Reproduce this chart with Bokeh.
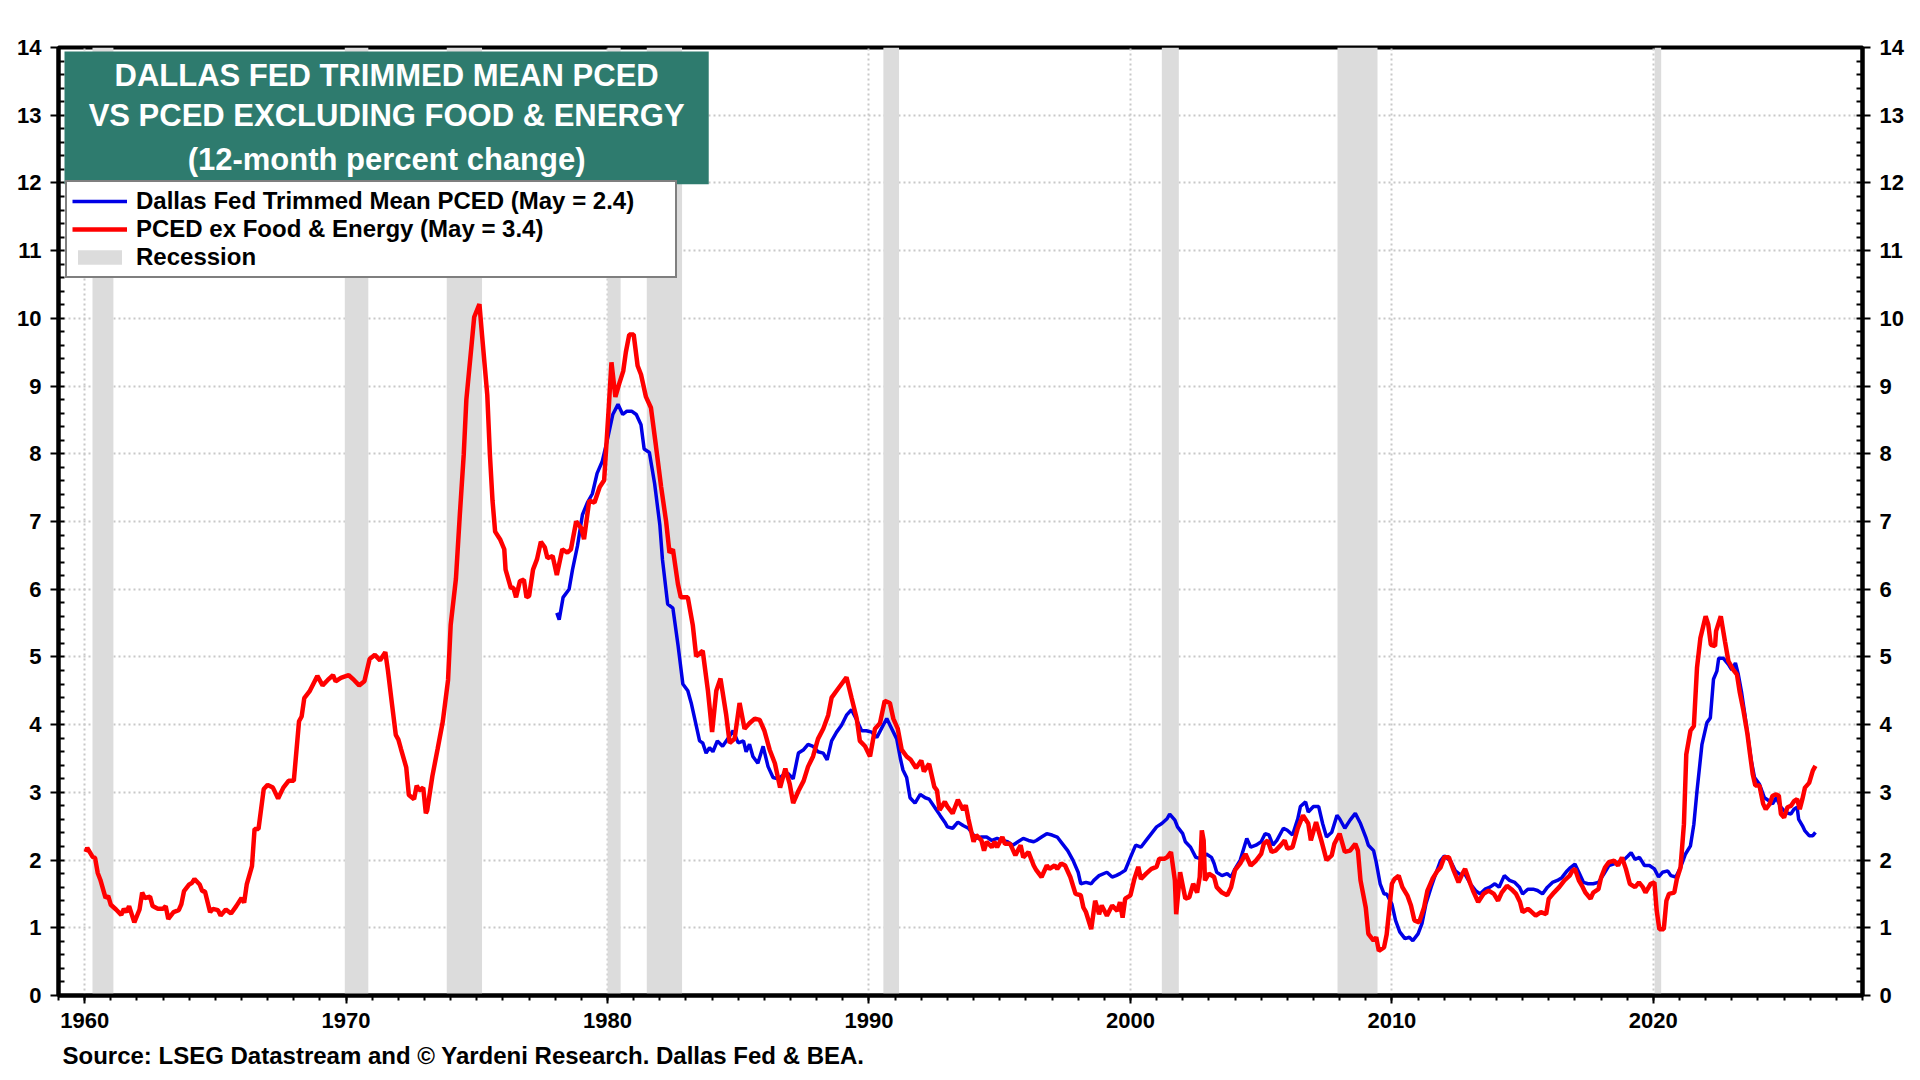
from bokeh.plotting import figure
from bokeh.models import (Range1d, LinearAxis, SingleIntervalTicker, Legend, LegendItem,
                          BoxAnnotation, Label, Title)
from bokeh.embed import file_html
from bokeh.resources import INLINE

# recession periods (decimal years)
rec_start = [1960.3, 1969.95, 1973.85, 1980.0, 1981.5, 1990.55, 2001.2, 2007.92, 2020.05]
rec_end = [1961.1, 1970.85, 1975.2, 1980.5, 1982.85, 1991.15, 2001.85, 2009.45, 2020.3]

# PCED ex food & energy, yoy %
core_dates = [
    1960.04, 1960.1, 1960.3, 1960.4, 1960.5, 1960.6, 1960.8, 1960.9, 1961.0, 1961.2,
    1961.4, 1961.5, 1961.6, 1961.7, 1961.9, 1962.1, 1962.2, 1962.3, 1962.5, 1962.6,
    1962.8, 1963.0, 1963.1, 1963.2, 1963.4, 1963.6, 1963.7, 1963.8, 1964.0, 1964.1,
    1964.2, 1964.4, 1964.5, 1964.6, 1964.8, 1964.9, 1965.1, 1965.2, 1965.4, 1965.6,
    1965.8, 1966.0, 1966.1, 1966.2, 1966.4, 1966.5, 1966.65, 1966.85, 1967.0, 1967.2,
    1967.4, 1967.6, 1967.8, 1968.0, 1968.2, 1968.3, 1968.4, 1968.6, 1968.9, 1969.1,
    1969.3, 1969.5, 1969.6, 1969.8, 1970.1, 1970.3, 1970.5, 1970.7, 1970.9, 1971.1,
    1971.3, 1971.5, 1971.6, 1971.75, 1971.9, 1972.0, 1972.1, 1972.3, 1972.4, 1972.6,
    1972.7, 1972.8, 1972.95, 1973.05, 1973.1, 1973.3, 1973.5, 1973.7, 1973.9, 1974.0,
    1974.2, 1974.35, 1974.5, 1974.6, 1974.8, 1974.9, 1975.1, 1975.2, 1975.4, 1975.5,
    1975.6, 1975.7, 1975.9, 1976.05, 1976.1, 1976.3, 1976.4, 1976.5, 1976.65, 1976.8,
    1976.9, 1977.0, 1977.15, 1977.3, 1977.45, 1977.6, 1977.7, 1977.9, 1978.06, 1978.27,
    1978.46, 1978.6, 1978.8, 1979.0, 1979.1, 1979.3, 1979.5, 1979.7, 1979.87, 1980.03,
    1980.15, 1980.3, 1980.45, 1980.6, 1980.7, 1980.83, 1981.0, 1981.15, 1981.28, 1981.47,
    1981.66, 1981.85, 1982.05, 1982.24, 1982.37, 1982.5, 1982.69, 1982.8, 1983.07, 1983.26,
    1983.39, 1983.64, 1983.84, 1984.0, 1984.16, 1984.32, 1984.54, 1984.67, 1984.86, 1985.05,
    1985.24, 1985.43, 1985.63, 1985.82, 1986.0, 1986.2, 1986.4, 1986.6, 1986.8, 1986.97,
    1987.1, 1987.3, 1987.5, 1987.67, 1987.86, 1988.05, 1988.25, 1988.44, 1988.57, 1988.76,
    1988.95, 1989.14, 1989.33, 1989.53, 1989.65, 1989.85, 1990.04, 1990.23, 1990.42, 1990.6,
    1990.8, 1990.93, 1991.1, 1991.25, 1991.44, 1991.6, 1991.8, 1992.0, 1992.1, 1992.3,
    1992.5, 1992.6, 1992.7, 1992.9, 1993.0, 1993.2, 1993.4, 1993.6, 1993.7, 1993.8,
    1994.0, 1994.1, 1994.3, 1994.4, 1994.5, 1994.7, 1994.8, 1994.9, 1995.1, 1995.2,
    1995.4, 1995.6, 1995.8, 1995.9, 1996.1, 1996.3, 1996.4, 1996.6, 1996.8, 1996.9,
    1997.1, 1997.2, 1997.35, 1997.5, 1997.7, 1997.9, 1998.1, 1998.2, 1998.3, 1998.5,
    1998.65, 1998.8, 1998.9, 1999.1, 1999.3, 1999.5, 1999.6, 1999.7, 1999.8, 2000.0,
    2000.15, 2000.3, 2000.4, 2000.6, 2000.8, 2001.0, 2001.1, 2001.3, 2001.4, 2001.55,
    2001.7, 2001.75, 2001.9, 2002.1, 2002.25, 2002.4, 2002.55, 2002.65, 2002.73, 2002.8,
    2002.85, 2003.0, 2003.2, 2003.3, 2003.5, 2003.7, 2003.85, 2004.0, 2004.2, 2004.4,
    2004.6, 2004.8, 2005.0, 2005.1, 2005.25, 2005.4, 2005.55, 2005.75, 2005.9, 2006.0,
    2006.2, 2006.4, 2006.6, 2006.8, 2006.9, 2007.1, 2007.3, 2007.5, 2007.7, 2007.8,
    2008.0, 2008.2, 2008.4, 2008.6, 2008.7, 2008.8, 2009.0, 2009.1, 2009.3, 2009.4,
    2009.5, 2009.7, 2009.8, 2010.0, 2010.1, 2010.26, 2010.4, 2010.6, 2010.73, 2010.86,
    2011.04, 2011.23, 2011.36, 2011.55, 2011.74, 2011.86, 2012.0, 2012.18, 2012.37, 2012.55,
    2012.7, 2012.8, 2013.0, 2013.1, 2013.3, 2013.5, 2013.7, 2013.9, 2014.06, 2014.2,
    2014.4, 2014.57, 2014.75, 2014.9, 2015.0, 2015.2, 2015.3, 2015.5, 2015.7, 2015.9,
    2016.0, 2016.2, 2016.4, 2016.6, 2016.8, 2016.9, 2017.0, 2017.15, 2017.3, 2017.4,
    2017.6, 2017.7, 2017.9, 2018.0, 2018.15, 2018.3, 2018.5, 2018.65, 2018.8, 2018.95,
    2019.1, 2019.3, 2019.45, 2019.6, 2019.7, 2019.9, 2020.04, 2020.13, 2020.23, 2020.4,
    2020.5, 2020.6, 2020.8, 2020.9, 2021.04, 2021.17, 2021.26, 2021.42, 2021.55, 2021.67,
    2021.8, 2022.0, 2022.1, 2022.2, 2022.36, 2022.4, 2022.58, 2022.74, 2022.87, 2023.06,
    2023.2, 2023.3, 2023.45, 2023.6, 2023.7, 2023.8, 2023.9, 2024.06, 2024.2, 2024.3,
    2024.45, 2024.56, 2024.7, 2024.8, 2024.88, 2025.0, 2025.13, 2025.26, 2025.38, 2025.5,
    2025.6, 2025.7, 2025.8, 2025.96, 2026.1, 2026.2,
]
core_vals = [
    2.12, 2.18, 2.05, 2.03, 1.81, 1.71, 1.44, 1.47, 1.34, 1.27,
    1.19, 1.28, 1.23, 1.32, 1.08, 1.27, 1.52, 1.44, 1.46, 1.32,
    1.28, 1.28, 1.32, 1.13, 1.23, 1.26, 1.35, 1.54, 1.64, 1.66,
    1.72, 1.64, 1.54, 1.54, 1.23, 1.28, 1.26, 1.18, 1.27, 1.21,
    1.32, 1.44, 1.37, 1.64, 1.91, 2.46, 2.46, 3.05, 3.11, 3.07,
    2.91, 3.07, 3.17, 3.17, 4.05, 4.12, 4.39, 4.49, 4.72, 4.58,
    4.66, 4.73, 4.64, 4.69, 4.73, 4.66, 4.58, 4.64, 4.97, 5.03,
    4.95, 5.07, 4.80, 4.32, 3.85, 3.78, 3.64, 3.37, 2.96, 2.90,
    3.10, 3.03, 3.07, 2.69, 2.73, 3.24, 3.64, 4.05, 4.66, 5.47,
    6.15, 7.10, 7.99, 8.80, 9.61, 10.02, 10.21, 9.75, 8.87, 7.99,
    7.31, 6.85, 6.73, 6.59, 6.29, 6.02, 6.02, 5.88, 6.12, 6.14,
    5.88, 5.90, 6.29, 6.44, 6.70, 6.62, 6.46, 6.49, 6.21, 6.59,
    6.54, 6.59, 7.00, 6.90, 6.74, 7.31, 7.28, 7.51, 7.61, 8.58,
    9.35, 8.84, 9.04, 9.22, 9.50, 9.76, 9.76, 9.30, 9.17, 8.84,
    8.68, 8.12, 7.51, 7.00, 6.54, 6.59, 6.08, 5.88, 5.88, 5.47,
    5.01, 5.09, 4.50, 3.89, 4.50, 4.68, 4.14, 3.73, 3.79, 4.32,
    3.94, 4.02, 4.09, 4.07, 3.91, 3.63, 3.43, 3.07, 3.35, 3.12,
    2.84, 3.02, 3.17, 3.38, 3.53, 3.79, 3.94, 4.14, 4.40, 4.50,
    4.60, 4.70, 4.40, 4.09, 3.76, 3.68, 3.53, 3.94, 4.02, 4.35,
    4.32, 4.09, 3.94, 3.63, 3.53, 3.48, 3.36, 3.47, 3.31, 3.42,
    3.08, 3.03, 2.74, 2.86, 2.79, 2.69, 2.89, 2.74, 2.81, 2.61,
    2.27, 2.37, 2.29, 2.14, 2.27, 2.19, 2.27, 2.19, 2.34, 2.24,
    2.24, 2.07, 2.22, 2.04, 2.12, 1.92, 1.85, 1.75, 1.92, 1.87,
    1.92, 1.87, 1.95, 1.92, 1.75, 1.50, 1.48, 1.30, 1.23, 0.98,
    1.40, 1.20, 1.33, 1.18, 1.33, 1.25, 1.38, 1.15, 1.43, 1.48,
    1.72, 1.90, 1.72, 1.80, 1.87, 1.90, 2.02, 2.02, 2.04, 2.12,
    1.70, 1.20, 1.82, 1.43, 1.45, 1.65, 1.52, 1.75, 2.44, 2.29,
    1.70, 1.80, 1.75, 1.60, 1.52, 1.48, 1.60, 1.85, 1.95, 2.09,
    1.92, 1.99, 2.09, 2.24, 2.29, 2.12, 2.14, 2.22, 2.29, 2.17,
    2.19, 2.47, 2.66, 2.54, 2.29, 2.56, 2.29, 2.00, 2.07, 2.24,
    2.39, 2.12, 2.14, 2.24, 2.14, 1.70, 1.30, 0.91, 0.81, 0.86,
    0.66, 0.71, 0.90, 1.65, 1.72, 1.77, 1.60, 1.47, 1.33, 1.11,
    1.08, 1.30, 1.55, 1.72, 1.84, 1.89, 2.04, 2.04, 1.84, 1.67,
    1.80, 1.87, 1.65, 1.55, 1.38, 1.50, 1.55, 1.50, 1.40, 1.52,
    1.62, 1.57, 1.50, 1.38, 1.23, 1.28, 1.25, 1.18, 1.23, 1.20,
    1.43, 1.52, 1.60, 1.70, 1.77, 1.84, 1.87, 1.70, 1.60, 1.52,
    1.43, 1.52, 1.57, 1.74, 1.89, 1.97, 1.99, 1.92, 2.04, 1.87,
    1.65, 1.60, 1.67, 1.60, 1.52, 1.65, 1.67, 1.25, 0.98, 0.98,
    1.40, 1.50, 1.52, 1.72, 1.89, 2.53, 3.56, 3.91, 3.98, 4.84,
    5.28, 5.60, 5.48, 5.18, 5.16, 5.38, 5.60, 5.23, 4.94, 4.81,
    4.74, 4.49, 4.20, 3.86, 3.56, 3.27, 3.10, 3.10, 2.83, 2.75,
    2.83, 2.95, 2.97, 2.95, 2.68, 2.63, 2.78, 2.80, 2.87, 2.90,
    2.75, 2.90, 3.07, 3.14, 3.32, 3.39,
]

# Dallas Fed trimmed mean PCED, yoy %
trim_dates = [
    1978.06, 1978.15, 1978.3, 1978.53, 1978.66, 1978.85, 1979.04, 1979.23, 1979.42, 1979.6,
    1979.8, 1980.0, 1980.2, 1980.4, 1980.58, 1980.74, 1980.92, 1981.1, 1981.28, 1981.4,
    1981.6, 1981.8, 1982.0, 1982.1, 1982.3, 1982.5, 1982.7, 1982.88, 1983.07, 1983.2,
    1983.39, 1983.52, 1983.64, 1983.77, 1983.9, 1984.03, 1984.2, 1984.4, 1984.6, 1984.8,
    1985.0, 1985.2, 1985.3, 1985.43, 1985.56, 1985.75, 1985.95, 1986.14, 1986.33, 1986.52,
    1986.7, 1986.9, 1987.1, 1987.3, 1987.5, 1987.67, 1987.86, 1988.05, 1988.25, 1988.4,
    1988.57, 1988.76, 1988.95, 1989.14, 1989.33, 1989.53, 1989.72, 1989.9, 1990.1, 1990.3,
    1990.5, 1990.68, 1990.87, 1991.06, 1991.2, 1991.3, 1991.44, 1991.57, 1991.76, 1991.96,
    1992.15, 1992.3, 1992.53, 1992.72, 1992.9, 1993.0, 1993.2, 1993.4, 1993.6, 1993.8,
    1994.0, 1994.1, 1994.3, 1994.5, 1994.7, 1994.9, 1995.1, 1995.3, 1995.5, 1995.7,
    1995.9, 1996.1, 1996.3, 1996.4, 1996.6, 1996.8, 1997.0, 1997.2, 1997.4, 1997.6,
    1997.8, 1998.0, 1998.1, 1998.3, 1998.5, 1998.6, 1998.8, 1999.1, 1999.3, 1999.45,
    1999.6, 1999.8, 2000.0, 2000.2, 2000.4, 2000.6, 2000.8, 2001.0, 2001.2, 2001.4,
    2001.5, 2001.7, 2001.8, 2002.0, 2002.1, 2002.3, 2002.5, 2002.7, 2002.9, 2003.1,
    2003.2, 2003.3, 2003.5, 2003.7, 2003.85, 2004.0, 2004.2, 2004.45, 2004.6, 2004.8,
    2005.0, 2005.15, 2005.3, 2005.45, 2005.6, 2005.85, 2006.0, 2006.2, 2006.4, 2006.5,
    2006.7, 2006.8, 2007.0, 2007.2, 2007.35, 2007.5, 2007.7, 2007.9, 2008.0, 2008.2,
    2008.4, 2008.6, 2008.8, 2009.0, 2009.1, 2009.3, 2009.4, 2009.55, 2009.7, 2009.8,
    2010.0, 2010.14, 2010.3, 2010.5, 2010.67, 2010.8, 2011.0, 2011.15, 2011.3, 2011.5,
    2011.67, 2011.86, 2012.0, 2012.24, 2012.43, 2012.6, 2012.8, 2013.0, 2013.2, 2013.37,
    2013.56, 2013.75, 2013.94, 2014.1, 2014.3, 2014.5, 2014.7, 2014.88, 2015.0, 2015.2,
    2015.4, 2015.57, 2015.76, 2015.95, 2016.14, 2016.33, 2016.5, 2016.7, 2016.83, 2017.0,
    2017.15, 2017.33, 2017.5, 2017.7, 2017.9, 2018.1, 2018.3, 2018.47, 2018.65, 2018.84,
    2019.03, 2019.15, 2019.3, 2019.47, 2019.66, 2019.85, 2020.04, 2020.2, 2020.35, 2020.55,
    2020.67, 2020.86, 2021.04, 2021.23, 2021.42, 2021.55, 2021.67, 2021.86, 2022.05, 2022.18,
    2022.3, 2022.43, 2022.5, 2022.68, 2022.87, 2023.0, 2023.14, 2023.25, 2023.37, 2023.5,
    2023.62, 2023.75, 2023.87, 2024.06, 2024.25, 2024.45, 2024.56, 2024.7, 2024.88, 2025.07,
    2025.26, 2025.38, 2025.5, 2025.56, 2025.7, 2025.8, 2025.96, 2026.1, 2026.2,
]
trim_vals = [
    5.65, 5.55, 5.88, 6.00, 6.29, 6.64, 7.10, 7.28, 7.41, 7.71,
    7.89, 8.22, 8.58, 8.73, 8.58, 8.63, 8.63, 8.58, 8.43, 8.07,
    8.02, 7.56, 6.95, 6.44, 5.78, 5.72, 5.16, 4.60, 4.50, 4.32,
    3.99, 3.76, 3.73, 3.58, 3.66, 3.60, 3.76, 3.68, 3.79, 3.91,
    3.73, 3.76, 3.60, 3.71, 3.53, 3.43, 3.68, 3.38, 3.22, 3.20,
    3.25, 3.28, 3.20, 3.58, 3.63, 3.71, 3.68, 3.60, 3.58, 3.48,
    3.76, 3.89, 3.99, 4.14, 4.22, 4.07, 3.91, 3.91, 3.89, 3.81,
    3.96, 4.09, 3.94, 3.79, 3.50, 3.33, 3.22, 2.92, 2.84, 2.97,
    2.92, 2.90, 2.77, 2.66, 2.56, 2.49, 2.47, 2.56, 2.51, 2.47,
    2.37, 2.32, 2.34, 2.34, 2.29, 2.32, 2.29, 2.27, 2.22, 2.27,
    2.32, 2.29, 2.27, 2.29, 2.34, 2.39, 2.37, 2.34, 2.24, 2.14,
    2.00, 1.82, 1.65, 1.67, 1.65, 1.70, 1.77, 1.82, 1.75, 1.77,
    1.80, 1.85, 2.04, 2.22, 2.19, 2.29, 2.39, 2.49, 2.54, 2.61,
    2.68, 2.59, 2.49, 2.39, 2.27, 2.19, 2.04, 2.02, 2.09, 2.04,
    1.95, 1.82, 1.77, 1.80, 1.75, 1.87, 2.00, 2.32, 2.19, 2.22,
    2.27, 2.39, 2.37, 2.22, 2.29, 2.47, 2.44, 2.37, 2.61, 2.79,
    2.86, 2.71, 2.79, 2.79, 2.54, 2.34, 2.41, 2.66, 2.61, 2.47,
    2.59, 2.69, 2.54, 2.34, 2.22, 2.14, 1.97, 1.65, 1.50, 1.50,
    1.35, 1.11, 0.94, 0.84, 0.86, 0.81, 0.91, 1.06, 1.35, 1.60,
    1.79, 1.99, 2.06, 1.99, 1.84, 1.79, 1.79, 1.65, 1.55, 1.50,
    1.57, 1.60, 1.65, 1.60, 1.77, 1.70, 1.67, 1.60, 1.50, 1.57,
    1.57, 1.55, 1.50, 1.60, 1.67, 1.70, 1.74, 1.84, 1.89, 1.94,
    1.82, 1.67, 1.65, 1.65, 1.67, 1.79, 1.92, 1.94, 1.97, 1.99,
    2.06, 2.11, 2.01, 2.04, 1.92, 1.92, 1.87, 1.75, 1.82, 1.84,
    1.77, 1.75, 1.89, 2.09, 2.21, 2.53, 3.02, 3.71, 4.03, 4.10,
    4.67, 4.79, 4.98, 4.98, 4.89, 4.81, 4.91, 4.74, 4.49, 4.15,
    3.81, 3.46, 3.22, 3.12, 2.92, 2.87, 2.83, 2.92, 2.78, 2.70,
    2.68, 2.75, 2.78, 2.60, 2.51, 2.43, 2.36, 2.36, 2.41,
]

FONT = "Liberation Sans"

p = figure(width=1910, height=1080, output_backend="svg", toolbar_location=None,
           x_range=Range1d(1959, 2028), y_range=Range1d(0, 14),
           min_border_left=58, min_border_right=48, min_border_top=47, min_border_bottom=85)
p.background_fill_color = "white"
p.border_fill_color = "white"
p.outline_line_color = "black"
p.outline_line_width = 4

# recession shading
rec = p.quad(left=rec_start, right=rec_end, bottom=0, top=14,
             fill_color="#DCDCDC", line_color=None)

trim = p.line(trim_dates, trim_vals, line_color="#0000E6", line_width=3.5)
core = p.line(core_dates, core_vals, line_color="#FF0000", line_width=4.5)

# axes
xticker = SingleIntervalTicker(interval=10, num_minor_ticks=10)
yticker = SingleIntervalTicker(interval=1, num_minor_ticks=5)
p.xaxis.ticker = xticker
p.xgrid.ticker = xticker
p.yaxis.ticker = yticker
p.ygrid.ticker = yticker

right_axis = LinearAxis(ticker=yticker)
p.add_layout(right_axis, "right")


def style_axis(ax):
    ax.axis_line_width = 4
    ax.axis_line_color = "black"
    ax.major_tick_line_width = 2
    ax.minor_tick_line_width = 2
    ax.major_tick_line_color = "black"
    ax.minor_tick_line_color = "black"
    ax.major_label_text_font = FONT
    ax.major_label_text_font_style = "bold"
    ax.major_label_text_font_size = "22px"
    ax.major_label_text_color = "black"
    ax.major_tick_in = 0
    ax.major_tick_out = 8
    ax.major_label_standoff = 9


for ax in [p.yaxis[0], right_axis]:
    style_axis(ax)
    ax.minor_tick_in = 6
    ax.minor_tick_out = 0

style_axis(p.xaxis[0])
p.xaxis.minor_tick_in = 0
p.xaxis.minor_tick_out = 5

for g in [p.xgrid[0], p.ygrid[0]]:
    g.grid_line_color = "#C8C8C8"
    g.grid_line_dash = "2 3"
    g.grid_line_width = 2

# title box
p.add_layout(BoxAnnotation(left=1959.23, right=1983.87, bottom=11.98, top=13.94,
                           fill_color="#2E7B6E", fill_alpha=1, line_color=None))
title_lines = ["DALLAS FED TRIMMED MEAN PCED",
               "VS PCED EXCLUDING FOOD & ENERGY",
               "(12-month percent change)"]
for txt, yy in zip(title_lines, [13.59, 13.0, 12.35]):
    p.add_layout(Label(x=1971.55, y=yy, text=txt, text_align="center",
                       text_baseline="middle", text_color="white", text_font=FONT,
                       text_font_style="bold", text_font_size="31px"))

legend = Legend(items=[
    LegendItem(label="Dallas Fed Trimmed Mean PCED (May = 2.4)", renderers=[trim]),
    LegendItem(label="PCED ex Food & Energy (May = 3.4)", renderers=[core]),
    LegendItem(label="Recession", renderers=[rec])],
    location=(7, 717), margin=0, padding=5, spacing=0,
    glyph_width=55, glyph_height=18, label_height=26, label_width=534, label_standoff=9,
    border_line_color="black", border_line_width=2,
    background_fill_color="white", background_fill_alpha=1,
    label_text_font=FONT, label_text_font_style="bold", label_text_font_size="24px",
    label_text_color="black")
p.add_layout(legend)

source = Title(text="Source: LSEG Datastream and \u00a9 Yardeni Research. Dallas Fed & BEA.",
               align="left", offset=4, standoff=18, text_font=FONT, text_font_style="bold",
               text_font_size="24px", text_color="black")
p.add_layout(source, "below")

open("out.html", "w").write(file_html(p, INLINE))
